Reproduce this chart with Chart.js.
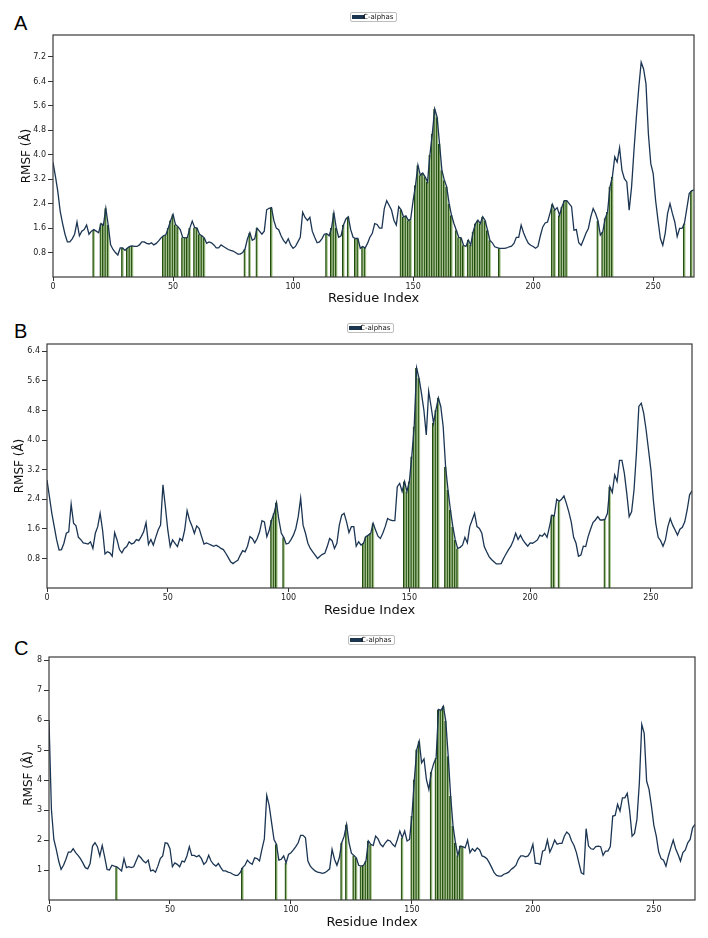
<!DOCTYPE html>
<html>
<head>
<meta charset="utf-8">
<title>RMSF</title>
<script src="https://cdn.jsdelivr.net/npm/chart.js@4.4.0/dist/chart.umd.min.js"></script>
<style>
  body { margin:0; width:708px; height:938px; background:#fff; position:relative; overflow:hidden; font-family:"DejaVu Sans", sans-serif; }
  canvas { position:absolute; left:0; }
  .lbl { position:absolute; left:14px; font-family:"Liberation Sans", Arial, sans-serif; font-size:20px; line-height:20px; color:#000; }
  .legend { position:absolute; height:8px; border:1px solid #bdbdbd; border-radius:2px; background:#fff; }
  .legend .sw { position:absolute; left:1px; top:2px; width:13px; height:4px; background:#1c3550; }
  .legend .tx { position:absolute; left:12px; top:-1px; font-size:7px; line-height:10px; color:#111; white-space:nowrap; z-index:1; }
</style>
</head>
<body>
<div class="lbl" style="top:13px">A</div>
<div class="lbl" style="top:321px">B</div>
<div class="lbl" style="top:638px">C</div>

<div class="legend" style="left:350px; top:12px; width:45px"><span class="sw"></span><span class="tx">C-alphas</span></div>
<div class="legend" style="left:347px; top:323px; width:45px"><span class="sw"></span><span class="tx">C-alphas</span></div>
<div class="legend" style="left:348px; top:635px; width:45px"><span class="sw"></span><span class="tx">C-alphas</span></div>

<canvas id="chartA" width="708" height="310" style="top:0px"></canvas>
<canvas id="chartB" width="708" height="310" style="top:310px"></canvas>
<canvas id="chartC" width="708" height="318" style="top:620px"></canvas>

<script>
// RMSF per residue (C-alphas)
var rmsfA = [3.75,3.3,2.8,2.15,1.75,1.4,1.15,1.15,1.25,1.4,1.8,1.35,1.5,1.55,1.7,1.4,1.5,1.55,1.5,1.45,
  1.75,1.7,2.25,1.7,1.05,0.9,0.8,0.72,0.95,0.95,0.87,0.95,1.0,1.02,1.0,1.0,1.05,1.15,1.15,1.1,
  1.08,1.12,1.05,1.1,1.18,1.28,1.35,1.38,1.6,1.85,2.05,1.72,1.65,1.55,1.3,1.28,1.3,1.6,1.83,1.62,
  1.6,1.4,1.35,1.28,1.1,1.15,1.12,1.05,0.95,0.95,1.05,1.0,0.95,0.9,0.87,0.85,0.8,0.75,0.75,0.8,
  0.92,1.25,1.45,1.2,1.25,1.6,1.5,1.4,1.5,2.2,2.25,2.27,1.85,1.6,1.55,1.35,1.2,1.1,1.25,1.05,
  0.94,1.0,1.15,1.3,2.12,1.95,1.85,1.95,1.5,1.3,1.12,1.15,1.25,1.4,1.42,1.35,1.6,2.1,1.6,1.3,
  1.35,1.7,1.9,1.97,1.55,1.3,1.26,1.26,0.94,1.0,0.95,1.1,1.3,1.43,1.75,1.72,1.6,1.6,2.24,2.5,
  2.35,2.19,1.86,1.7,2.3,2.2,1.97,2.0,1.85,1.9,2.5,3.0,3.66,3.33,3.4,3.28,3.11,4.0,4.69,5.5,
  5.23,4.36,3.49,3.17,2.95,2.4,2.02,1.75,1.53,1.3,1.28,1.04,1.0,1.21,1.05,1.48,1.75,1.86,1.75,1.97,
  1.85,1.53,1.2,1.12,0.99,0.96,0.94,0.94,0.94,0.95,0.99,1.01,1.1,1.3,1.3,1.7,1.45,1.26,1.1,1.04,
  1.0,0.94,1.0,1.35,1.64,1.77,1.8,2.08,2.38,2.19,2.27,2.02,2.3,2.5,2.5,2.4,2.3,1.53,1.55,1.12,
  1.04,1.23,1.43,1.59,1.97,2.24,2.08,1.84,1.37,1.48,1.92,2.13,2.95,3.28,3.93,3.76,4.23,3.49,3.22,3.11,
  2.19,2.95,4.15,5.23,6.2,7.03,6.81,6.32,4.69,3.71,3.38,2.51,1.86,1.26,1.04,1.43,2.08,2.4,2.08,1.8,
  1.32,1.59,1.59,1.75,2.24,2.73,2.82,2.85];

var rmsfB = [2.92,2.47,2.02,1.66,1.3,1.03,1.04,1.21,1.48,1.52,2.27,1.75,1.68,1.37,1.31,1.22,1.21,1.19,1.25,1.07,
  1.48,1.66,2.02,1.57,0.92,0.98,0.95,0.86,1.5,1.3,1.04,0.95,1.07,1.12,1.25,1.19,1.22,1.31,1.28,1.39,
  1.52,1.77,1.18,1.31,1.16,1.37,1.57,1.7,2.79,2.2,1.57,1.12,1.3,1.21,1.12,1.34,1.28,1.57,2.09,1.84,
  1.68,1.48,1.68,1.61,1.39,1.19,1.22,1.19,1.16,1.13,1.16,1.12,1.07,1.04,0.94,0.83,0.71,0.66,0.71,0.75,
  0.89,1.01,0.98,1.13,1.39,1.34,1.22,1.34,1.52,1.82,1.79,1.39,1.57,1.84,2.02,2.31,1.84,1.48,1.37,1.19,
  1.21,1.31,1.43,1.61,1.93,2.43,1.7,1.48,1.21,1.07,0.98,0.89,0.8,0.86,0.91,0.94,1.12,1.34,1.28,1.07,
  1.21,1.7,1.97,2.02,1.79,1.5,1.66,1.66,1.13,1.25,1.16,1.21,1.39,1.43,1.48,1.75,1.57,1.4,1.34,1.48,
  1.66,1.88,1.84,1.82,1.82,2.74,2.83,2.61,2.88,2.61,2.88,3.56,4.37,5.95,5.68,5.27,4.82,4.14,5.32,4.91,
  4.46,4.82,5.14,4.91,4.37,3.28,2.65,2.11,1.66,1.3,1.07,1.1,1.16,1.37,1.22,1.66,1.84,2.02,1.66,1.61,
  1.48,1.12,0.98,0.85,0.77,0.71,0.65,0.65,0.66,0.8,0.92,1.03,1.13,1.28,1.48,1.31,1.43,1.3,1.21,1.13,
  1.22,1.21,1.25,1.3,1.43,1.4,1.48,1.37,1.66,1.97,1.95,2.4,2.34,2.4,2.49,2.29,2.06,1.79,1.37,1.21,
  0.86,0.89,1.13,1.12,1.39,1.59,1.77,1.84,1.93,1.84,1.84,1.86,2.02,2.74,2.58,3.06,2.88,3.45,3.45,3.1,
  2.56,1.93,2.06,2.65,3.65,4.91,5.0,4.73,4.28,3.74,3.19,2.38,1.75,1.37,1.28,1.13,1.3,1.66,1.88,1.7,
  1.57,1.43,1.59,1.64,1.79,2.11,2.52,2.63];

var rmsfC = [6.0,3.02,2.02,1.69,1.3,1.02,1.16,1.36,1.6,1.6,1.71,1.58,1.49,1.38,1.24,1.08,1.04,1.22,1.8,1.91,
  1.78,1.47,1.82,1.44,1.02,1.0,1.16,1.13,1.11,1.04,0.97,1.38,1.08,1.11,1.08,1.11,1.3,1.49,1.41,1.3,
  1.24,1.33,0.97,1.0,0.93,1.13,1.38,1.47,1.91,1.89,1.71,1.11,1.24,1.19,1.11,1.3,1.27,1.47,1.78,1.49,
  1.49,1.44,1.49,1.38,1.19,1.27,1.49,1.3,1.19,1.13,1.22,1.08,0.97,0.97,0.93,0.91,0.86,0.82,0.82,0.91,
  1.08,1.16,1.33,1.24,1.19,1.41,1.38,1.3,1.69,2.04,3.49,3.16,2.58,2.02,1.86,1.33,1.36,1.47,1.24,1.52,
  1.58,1.67,1.78,1.91,2.16,2.16,2.08,1.3,1.13,1.04,0.97,0.93,0.91,0.89,0.91,0.97,1.04,1.69,1.36,1.16,
  1.41,1.91,2.13,2.52,1.91,1.56,1.49,1.41,1.16,1.13,1.16,1.3,1.97,1.86,1.82,2.13,2.04,1.86,1.78,1.91,
  2.0,1.97,1.86,1.78,2.02,2.3,2.08,2.3,1.97,2.02,2.8,4.02,5.02,5.3,4.58,4.71,4.02,3.69,4.27,4.56,
  4.74,6.36,6.33,6.47,5.97,4.8,3.47,2.47,1.91,1.49,1.8,1.78,1.74,2.0,1.58,1.71,1.63,1.74,1.67,1.47,
  1.44,1.38,1.24,1.08,0.91,0.82,0.8,0.8,0.86,0.89,0.93,1.02,1.08,1.16,1.36,1.47,1.47,1.44,1.47,1.6,
  1.86,1.22,1.22,1.19,1.63,1.67,2.0,1.6,1.78,2.0,1.86,1.89,1.89,2.13,2.27,2.19,1.97,1.82,1.58,1.24,
  0.91,0.86,2.38,1.8,1.71,1.69,1.78,1.8,1.78,1.49,1.63,1.63,1.78,2.8,2.82,3.19,2.97,3.41,3.41,3.56,
  2.97,2.13,2.22,2.69,3.91,5.86,5.56,3.97,3.69,3.13,2.49,2.13,1.6,1.38,1.33,1.13,1.47,1.74,2.0,1.71,
  1.52,1.3,1.58,1.67,1.91,2.02,2.41,2.52];

// residues marked with green bars
var greenA = [17,20,21,22,23,29,31,32,33,46,47,48,49,50,51,52,54,55,56,57,59,60,61,62,63,80,82,85,91,
  114,116,117,118,121,123,126,127,129,130,145,146,147,148,149,151,152,153,154,155,156,157,158,159,160,
  161,162,163,164,165,166,168,169,170,171,173,174,175,176,177,178,179,180,181,182,186,
  208,209,211,212,213,214,227,229,230,231,232,233,263,266];
var greenB = [93,94,95,98,131,132,133,134,135,148,149,150,151,152,153,154,160,161,162,
  165,166,167,168,169,170,209,210,212,231,233];
var greenC = [28,80,94,98,121,123,126,127,129,130,131,132,133,146,150,151,152,153,158,
  160,161,162,163,164,165,166,167,168,169,170,171];

// tick labels
var xTicks = [0,50,100,150,200,250];
var yTicksA = [0.8,1.6,2.4,3.2,4.0,4.8,5.6,6.4,7.2];
var yTicksB = [0.8,1.6,2.4,3.2,4.0,4.8,5.6,6.4];
var yTicksC = [1,2,3,4,5,6,7,8];

Chart.defaults.font.family = '"DejaVu Sans", sans-serif';
Chart.defaults.color = '#222';

// box around the plot area, like matplotlib spines
var framePlugin = {
  id: 'frame',
  afterDatasetsDraw: function(chart){
    var a = chart.chartArea;
    var c = chart.ctx;
    c.save();
    c.strokeStyle = '#3a3a3a';
    c.lineWidth = 1.2;
    c.strokeRect(a.left, a.top, a.right - a.left, a.bottom - a.top);
    c.restore();
  }
};

var drawPanel = function(id, values, greens, yTicks, yMax, yDigits, box){
  var linePts = values.map(function(v, i){ return {x: i, y: v}; });
  var barPts = greens.map(function(r){ return {x: r, y: values[r]}; });

  new Chart(document.getElementById(id), {
    type: 'bar',
    data: {
      datasets: [
        {
          type: 'line',
          label: 'C-alphas',
          data: linePts,
          borderColor: '#1b3553',
          borderWidth: 1.3,
          pointRadius: 0,
          tension: 0,
          order: 0
        },
        {
          type: 'bar',
          label: 'marked',
          data: barPts,
          backgroundColor: 'rgba(120,165,80,0.55)',
          borderColor: '#1f4a0e',
          borderWidth: {left: 1, right: 0, top: 0, bottom: 0},
          barThickness: 2.4,
          order: 1
        }
      ]
    },
    options: {
      responsive: false,
      animation: false,
      layout: { padding: { top: box.top, right: box.right, left: box.left, bottom: 0 } },
      plugins: { legend: { display: false }, tooltip: { enabled: false } },
      scales: {
        x: {
          type: 'linear',
          min: 0,
          max: 267,
          offset: false,
          afterBuildTicks: function(s){ s.ticks = xTicks.map(function(v){ return {value: v}; }); },
          afterFit: function(s){ s.height = box.xh; },
          ticks: { font: { size: 8 }, padding: 1, maxRotation: 0, color: '#222' },
          grid: { drawOnChartArea: false, tickLength: 4, color: '#333', offset: false },
          border: { display: false },
          title: { display: true, text: 'Residue Index', font: { size: 13 }, color: '#111',
                   padding: { top: box.xt, bottom: box.xt } }
        },
        y: {
          min: 0,
          max: yMax,
          afterBuildTicks: function(s){ s.ticks = yTicks.map(function(v){ return {value: v}; }); },
          afterFit: function(s){ s.width = box.yw; },
          ticks: { font: { size: 8 }, padding: 2, color: '#222',
                   callback: function(v){ return v.toFixed(yDigits); } },
          grid: { drawOnChartArea: false, tickLength: 5, color: '#333' },
          border: { display: false },
          title: { display: true, text: 'RMSF (Å)', font: { size: 12 }, color: '#111',
                   padding: { top: 0, bottom: 0 } }
        }
      }
    },
    plugins: [framePlugin]
  });
};

drawPanel('chartA', rmsfA, greenA, yTicksA, 7.92, 1, {top: 35, left: 20, right: 14, yw: 33, xh: 33, xt: 4});
drawPanel('chartB', rmsfB, greenB, yTicksB, 6.6, 1, {top: 34, left: 13, right: 16, yw: 34, xh: 32, xt: 2});
drawPanel('chartC', rmsfC, greenC, yTicksC, 8.11, 0, {top: 37, left: 22, right: 13, yw: 27, xh: 38, xt: 8});
</script>
</body>
</html>
